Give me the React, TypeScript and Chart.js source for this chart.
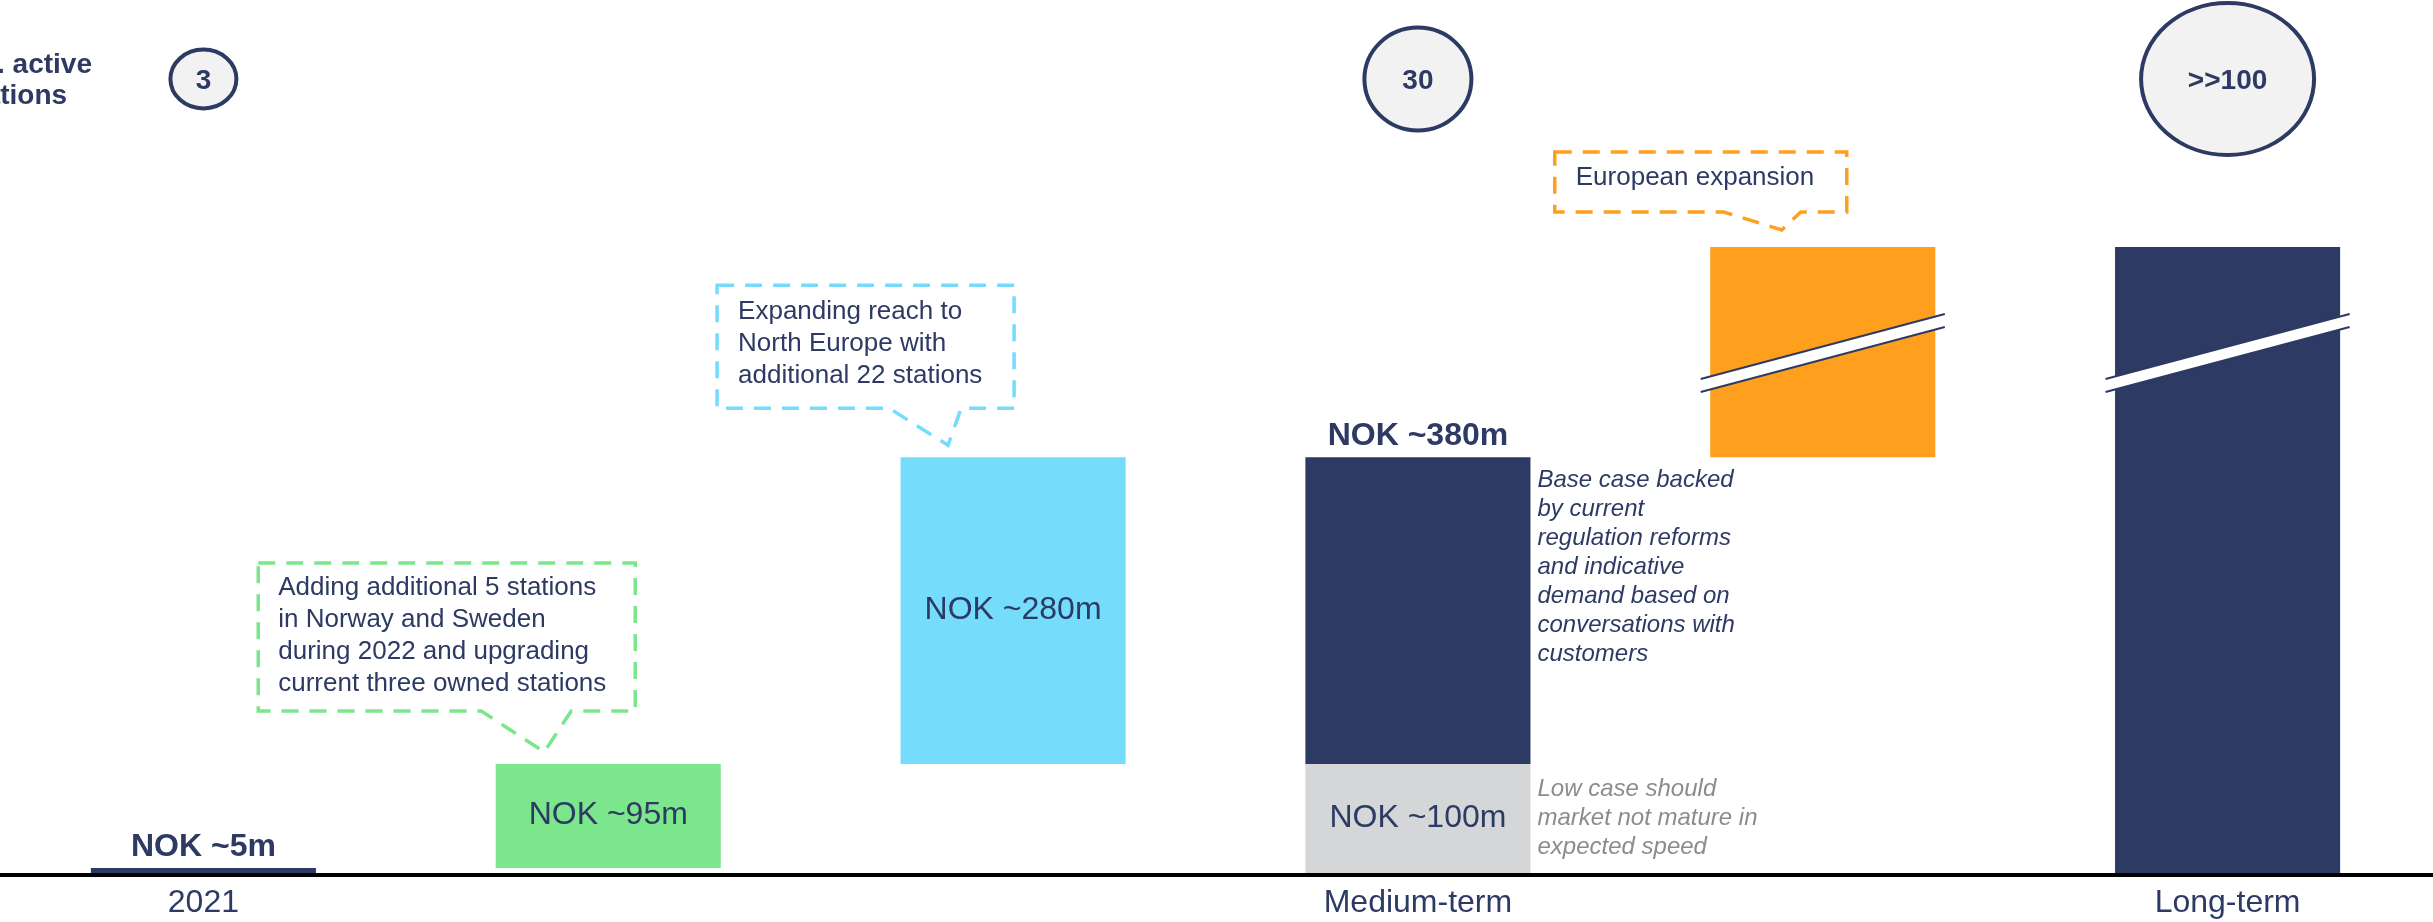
import React, { useEffect, useRef } from "react";
import { Chart, registerables } from "chart.js";

Chart.register(...registerables);

// ---------- data ----------
const categories = ["2021", "", "", "Medium-term", "", "Long-term"];
const barStart = [0, 5, 100, 100, 380, 0];
const barEnd = [5, 100, 380, 380, 572, 572];
const lowCaseStart = [null, null, null, 0, null, null];
const lowCaseEnd = [null, null, null, 100, null, null];
const barColors = ["#2c3a64", "#7be68b", "#75dcfc", "#2c3a64", "#ff9f1e", "#2c3a64"];
const lowCaseColor = "#d5d6d8";
const insideLabels = ["", "NOK ~95m", "NOK ~280m", "", "", ""];
const topLabels = ["NOK ~5m", "", "", "NOK ~380m", "", ""];
const lowCaseLabel = "NOK ~100m";
const stationCounts = ["3", "", "", "30", "", ">>100"];
const stationRx = [33, 0, 0, 53.5, 0, 86.5];
const stationRy = [29.5, 0, 0, 51.5, 0, 76];
const stationTitle = ["No. active", "stations"];
const brokenBars = [4, 5];
const greenNote = [
  "Adding additional 5 stations",
  "in Norway and Sweden",
  "during 2022 and upgrading",
  "current three owned stations",
];
const blueNote = ["Expanding reach to", "North Europe with", "additional 22 stations"];
const orangeNote = ["European expansion"];
const baseCaseNote = [
  "Base case backed",
  "by current",
  "regulation reforms",
  "and indicative",
  "demand based on",
  "conversations with",
  "customers",
];
const lowCaseNote = ["Low case should", "market not mature in", "expected speed"];

const NAVY = "#2c3a64";
const FONT = "'Liberation Sans', Arial, Helvetica, sans-serif";

type Callout = {
  bar: number;
  color: string;
  lines: string[];
  tipDx: number;
  tipDy: number;
  left: number;
  right: number;
  bottom: number;
  height: number;
  p1: number;
  p2: number;
  textDx: number;
  textDy: number;
};

const callouts: Callout[] = [
  { bar: 1, color: "#7be68b", lines: greenNote, tipDx: -64, tipDy: 12, left: -286, right: 91, bottom: -41, height: 148, p1: -63, p2: 27, textDx: 20, textDy: 32 },
  { bar: 2, color: "#75dcfc", lines: blueNote, tipDx: -65, tipDy: 12, left: -231, right: 66, bottom: -37, height: 123, p1: -59, p2: 13, textDx: 21, textDy: 34 },
  { bar: 4, color: "#ff9f1e", lines: orangeNote, tipDx: -41, tipDy: 17, left: -227, right: 65, bottom: -18, height: 60, p1: -58, p2: 19, textDx: 21, textDy: 33 },
];

const annotationPlugin = {
  id: "annotations",
  afterDatasetsDraw(chart: any) {
    const ctx: CanvasRenderingContext2D = chart.ctx;
    const bars = chart.getDatasetMeta(0).data as any[];
    const lowBars = chart.getDatasetMeta(1).data as any[];
    const zeroY = chart.scales.y.getPixelForValue(0);
    ctx.save();

    // axis line across full width
    ctx.fillStyle = "#000";
    ctx.fillRect(0, zeroY - 0.5, chart.width, 4);

    // break marks
    brokenBars.forEach((i) => {
      const b = bars[i];
      const l = b.x - b.width / 2 - 9.5;
      const r = b.x + b.width / 2 + 9.5;
      const t = b.y;
      ctx.fillStyle = "#ffffff";
      ctx.beginPath();
      ctx.moveTo(l, t + 132);
      ctx.lineTo(r, t + 67);
      ctx.lineTo(r, t + 80);
      ctx.lineTo(l, t + 145);
      ctx.closePath();
      ctx.fill();
      ctx.strokeStyle = NAVY;
      ctx.lineWidth = 2;
      ctx.beginPath();
      ctx.moveTo(l, t + 132);
      ctx.lineTo(r, t + 67);
      ctx.moveTo(l, t + 145);
      ctx.lineTo(r, t + 80);
      ctx.stroke();
    });

    // labels inside bars
    ctx.textAlign = "center";
    ctx.textBaseline = "alphabetic";
    ctx.fillStyle = NAVY;
    ctx.font = `32px ${FONT}`;
    insideLabels.forEach((txt, i) => {
      if (!txt) return;
      const b = bars[i];
      ctx.fillText(txt, b.x, (b.y + b.base) / 2 + 8.5);
    });
    const lb = lowBars[3];
    ctx.fillText(lowCaseLabel, lb.x, (lb.y + lb.base) / 2 + 8.5);

    // bold labels above bars
    ctx.font = `bold 32px ${FONT}`;
    topLabels.forEach((txt, i) => {
      if (!txt) return;
      const b = bars[i];
      ctx.fillText(txt, b.x, b.y - 12);
    });

    // side notes
    ctx.textAlign = "left";
    ctx.font = `italic 24px ${FONT}`;
    const mb = bars[3];
    const nx = mb.x + mb.width / 2 + 7;
    ctx.fillStyle = NAVY;
    baseCaseNote.forEach((ln, k) => ctx.fillText(ln, nx, mb.y + 30 + k * 29));
    ctx.fillStyle = "#8c8c8c";
    lowCaseNote.forEach((ln, k) => ctx.fillText(ln, nx, lb.y + 32 + k * 29));

    // callouts
    callouts.forEach((c) => {
      const b = bars[c.bar];
      const tx = b.x + c.tipDx;
      const ty = b.y - c.tipDy;
      const L = tx + c.left;
      const R = tx + c.right;
      const B = ty + c.bottom;
      const T = B - c.height;
      ctx.strokeStyle = c.color;
      ctx.lineWidth = 3.5;
      ctx.setLineDash([17, 11]);
      ctx.beginPath();
      ctx.moveTo(L, T);
      ctx.lineTo(R, T);
      ctx.lineTo(R, B);
      ctx.lineTo(tx + c.p2, B);
      ctx.lineTo(tx, ty);
      ctx.lineTo(tx + c.p1, B);
      ctx.lineTo(L, B);
      ctx.closePath();
      ctx.stroke();
      ctx.setLineDash([]);
      ctx.fillStyle = NAVY;
      ctx.font = `26px ${FONT}`;
      ctx.textAlign = "left";
      c.lines.forEach((ln, k) => ctx.fillText(ln, L + c.textDx, T + c.textDy + k * 32));
    });

    // station count ellipses
    stationCounts.forEach((txt, i) => {
      if (!txt) return;
      const cx = bars[i].x;
      const cy = 79;
      ctx.beginPath();
      ctx.ellipse(cx, cy, stationRx[i], stationRy[i], 0, 0, Math.PI * 2);
      ctx.fillStyle = "#f2f2f2";
      ctx.fill();
      ctx.strokeStyle = NAVY;
      ctx.lineWidth = 4;
      ctx.stroke();
      ctx.fillStyle = NAVY;
      ctx.font = `bold 28px ${FONT}`;
      ctx.textAlign = "center";
      ctx.fillText(txt, cx, cy + 10);
    });

    // station title (partly off-canvas on the left)
    ctx.font = `bold 28px ${FONT}`;
    ctx.textAlign = "left";
    ctx.fillStyle = NAVY;
    const w0 = ctx.measureText(stationTitle[0]).width;
    const sx = 92 - w0;
    ctx.fillText(stationTitle[0], sx, 73);
    ctx.fillText(stationTitle[1], sx, 104);

    ctx.restore();
  },
};

export default function App() {
  const canvasRef = useRef<HTMLCanvasElement | null>(null);

  useEffect(() => {
    document.body.style.margin = "0";
    const canvas = canvasRef.current;
    if (!canvas) return;
    const chart = new Chart(canvas, {
      type: "bar",
      data: {
        labels: categories,
        datasets: [
          {
            label: "Value",
            data: barStart.map((s, i) => [s, barEnd[i]]) as any,
            backgroundColor: barColors,
            borderWidth: 0,
            grouped: false,
            barPercentage: 1,
            categoryPercentage: 0.556,
            order: 1,
          } as any,
          {
            label: "Low case",
            data: lowCaseStart.map((s, i) => (s === null ? null : [s, lowCaseEnd[i]])) as any,
            backgroundColor: lowCaseColor,
            borderWidth: 0,
            grouped: false,
            barPercentage: 1,
            categoryPercentage: 0.556,
            order: 0,
          } as any,
        ],
      },
      options: {
        responsive: false,
        animation: false,
        devicePixelRatio: 1,
        layout: { padding: { top: 52, bottom: 0, left: 1, right: 3 } },
        plugins: {
          legend: { display: false },
          tooltip: { enabled: false },
        },
        scales: {
          x: {
            grid: { display: false, drawTicks: false },
            border: { display: false },
            afterFit: (scale: any) => {
              scale.height = 48.5;
            },
            ticks: {
              autoSkip: false,
              maxRotation: 0,
              padding: 10,
              color: NAVY,
              font: { family: FONT, size: 32 },
            },
          },
          y: {
            display: false,
            min: 0,
            max: 750,
            grid: { display: false },
          },
        },
      },
      plugins: [annotationPlugin],
    });
    return () => chart.destroy();
  }, []);

  return (
    <div style={{ width: 2433, height: 922, background: "#fff" }}>
      <canvas ref={canvasRef} width={2433} height={922} style={{ display: "block" }} />
    </div>
  );
}
